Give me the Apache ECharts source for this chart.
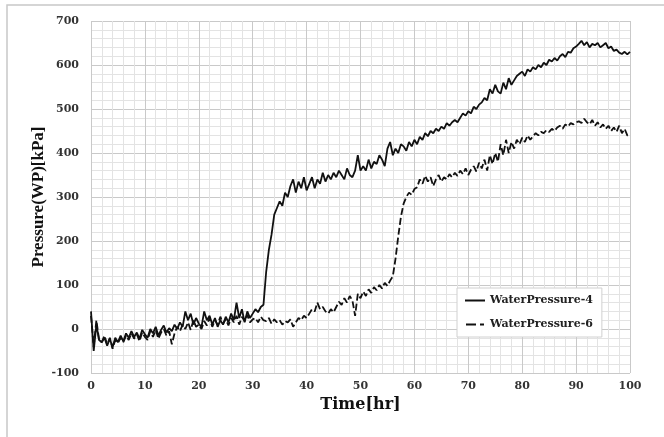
<!DOCTYPE html>
<html>
<head>
<meta charset="utf-8">
<script src="https://cdn.jsdelivr.net/npm/echarts@6/dist/echarts.min.js"></script>
<style>
  html, body { margin: 0; padding: 0; background: #fff; }
  #chart { width: 664px; height: 437px; }
</style>
</head>
<body>
<div id="chart"></div>
<script>
// time grid of the logger, every 0.5 hr from 0 to 100
const times = Array.from({ length: 201 }, (_, i) => i * 0.5);

const xTicks = [0, 10, 20, 30, 40, 50, 60, 70, 80, 90, 100];
const yTicks = [-100, 0, 100, 200, 300, 400, 500, 600, 700];

// WaterPressure-4 [kPa]
const wp4 = [
  40, -50, 10, -25, -30, -20, -38, -22, -42, -20, -30,
  -15, -28, -10, -20, -5, -18, -8, -22, -2, -12,
  -20, 0, -10, 5, -15, -2, 8, -8, 2, -5,
  10, 0, 15, 5, 40, 20, 35, 10, 25, 12,
  5, 40, 20, 30, 10, 25, 5, 20, 10, 28,
  15, 35, 20, 60, 25, 45, 15, 40, 25, 35,
  45, 38, 50, 55, 130, 180, 215, 260, 275, 290,
  280, 310, 300, 325, 340, 310, 335, 320, 345, 315,
  330, 345, 320, 340, 330, 355, 335, 350, 340, 355,
  345, 360, 350, 340, 365, 350, 345, 360, 395, 360,
  370, 360, 385, 365, 380, 375, 395, 385, 370, 410,
  425, 395, 410, 400, 420, 415, 405, 425, 415, 430,
  420, 437, 430, 445, 438, 450, 445, 455, 450, 460,
  455, 468, 462, 470, 475, 470, 480, 490, 485, 495,
  490, 505, 500, 510, 515, 525, 520, 545, 535, 555,
  540, 535, 560, 545, 570, 555, 565, 575, 580, 585,
  575, 590, 585, 595, 590, 600, 595, 605, 600, 612,
  608, 616, 610, 620, 625, 618, 630, 628, 638, 642,
  648, 655, 645, 652, 640, 648, 645, 650, 640, 645,
  650, 638, 642, 632, 635, 628, 625, 630, 624, 630
];

// WaterPressure-6 [kPa]
const wp6 = [
  30, -40, 20, -25, -30, -15, -35, -20, -45, -25, -32,
  -20, -30, -15, -25, -10, -22, -12, -28, -8, -18,
  -25, -5, -18, -2, -22, -8, 0, -15, -5, -35,
  -10, 5, -5, 10, 0, 15, -2, 20, 5, 10,
  0, 18, 8, 25, 5, 20, 10, 28, 12, 22,
  8, 25, 15, 30, 10, 28, 18, 32, 15, 22,
  25, 15, 28, 20, 18, 25, 12, 22, 15, 20,
  10, 18, 15, 22, 5, 15, 25, 20, 30, 25,
  35, 45, 40, 60, 45, 50, 40, 35, 45, 38,
  50, 62, 55, 70, 60, 75, 65, 30, 80, 70,
  85, 75, 90, 82, 95, 88, 100, 92, 105, 98,
  110, 120, 160, 210, 255, 285, 300, 310, 305, 318,
  322, 340, 330, 348, 335, 345, 325, 340, 350, 335,
  345, 340, 352, 345, 355, 348, 360, 352, 365, 350,
  362, 370, 358, 378, 365, 385, 360, 395, 375, 400,
  380, 420, 395, 430, 400, 425, 410, 430, 420, 435,
  425, 440, 430, 438, 445, 440, 448, 445, 452, 448,
  455, 450, 458, 462, 455, 465, 460, 468, 465, 470,
  472, 468, 478, 470, 465, 475, 462, 470, 458, 465,
  455, 462, 450, 458, 448, 462, 445, 455, 440, 435
];

const tickFont = {
  fontFamily: 'DejaVu Serif',
  fontWeight: 'bold',
  fontSize: 11,
  color: '#333'
};

// legend keys: plain stroke / long dash + short dash
const solidIcon = 'path://M0,0H20V2H0Z';
const dashIcon = 'path://M0,0H10V2H0Z M14,0H18V2H14Z';

const myChart = echarts.init(document.getElementById('chart'), null, { renderer: 'canvas' });

const option = {
  animation: false,
  backgroundColor: '#fff',
  graphic: [
    {
      type: 'rect',
      shape: { x: 7, y: 5, width: 700, height: 500 },
      style: { fill: 'none', stroke: '#c8c8c8', lineWidth: 1.5 },
      z: -1
    }
  ],
  grid: {
    left: 91,
    top: 21,
    width: 539,
    height: 352
  },
  legend: {
    orient: 'vertical',
    left: 457,
    top: 288,
    padding: [7, 9, 7, 8],
    itemWidth: 20,
    itemHeight: 2,
    itemGap: 13,
    backgroundColor: '#fff',
    borderColor: '#d0d0d0',
    borderWidth: 1,
    textStyle: {
      fontFamily: 'DejaVu Serif',
      fontWeight: 'bold',
      fontSize: 11,
      color: '#222'
    },
    data: [
      { name: 'WaterPressure-4', icon: solidIcon },
      { name: 'WaterPressure-6', icon: dashIcon }
    ]
  },
  xAxis: {
    type: 'value',
    min: xTicks[0],
    max: xTicks[xTicks.length - 1],
    interval: 10,
    name: 'Time[hr]',
    nameLocation: 'middle',
    nameGap: 24,
    nameMoveOverlap: false,
    nameTextStyle: {
      fontFamily: 'DejaVu Serif',
      fontWeight: 'bold',
      fontSize: 16,
      color: '#111'
    },
    axisLine: { show: false },
    axisTick: { show: false },
    axisLabel: Object.assign({ margin: 8 }, tickFont),
    splitLine: { show: true, lineStyle: { color: '#c9c9c9', width: 1 } },
    minorTick: { show: false, splitNumber: 5 },
    minorSplitLine: { show: true, lineStyle: { color: '#e3e3e3', width: 1 } }
  },
  yAxis: {
    type: 'value',
    min: yTicks[0],
    max: yTicks[yTicks.length - 1],
    interval: 100,
    name: 'Pressure(WP)[kPa]',
    nameLocation: 'middle',
    nameGap: 44,
    nameMoveOverlap: false,
    nameTextStyle: {
      fontFamily: 'Liberation Serif',
      fontWeight: 'bold',
      fontSize: 17,
      color: '#111'
    },
    axisLine: { show: false },
    axisTick: { show: false },
    axisLabel: Object.assign({ margin: 12 }, tickFont),
    splitLine: { show: true, lineStyle: { color: '#c9c9c9', width: 1 } },
    minorTick: { show: false, splitNumber: 5 },
    minorSplitLine: { show: true, lineStyle: { color: '#e3e3e3', width: 1 } }
  },
  series: [
    {
      name: 'WaterPressure-4',
      type: 'line',
      symbol: 'none',
      data: times.map((t, i) => [t, wp4[i]]),
      lineStyle: { color: '#111', width: 1.8 },
      itemStyle: { color: '#111' }
    },
    {
      name: 'WaterPressure-6',
      type: 'line',
      symbol: 'none',
      data: times.map((t, i) => [t, wp6[i]]),
      lineStyle: { color: '#111', width: 1.8, type: [7, 3] },
      itemStyle: { color: '#111' }
    }
  ]
};

myChart.setOption(option);
</script>
</body>
</html>
